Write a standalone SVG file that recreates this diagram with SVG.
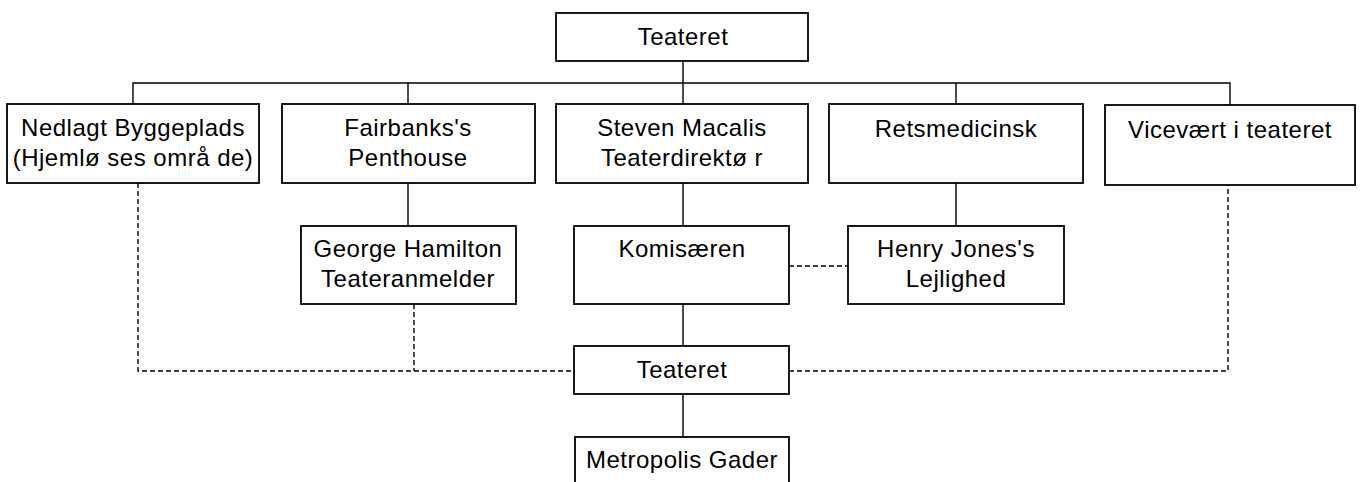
<svg xmlns="http://www.w3.org/2000/svg" width="1360" height="482" viewBox="0 0 1360 482">
<style>
.box{fill:#fff;stroke:#000;stroke-width:1.8}
.t{font-family:"Liberation Sans",Arial,sans-serif;font-size:24px;letter-spacing:0.5px;text-anchor:middle;fill:#000}
.s{fill:none;stroke:#000;stroke-width:1.4}
.d{fill:none;stroke:#000;stroke-width:1.4;stroke-dasharray:5 3}
</style>
<rect width="1360" height="482" fill="#fff"/>
<g id="connectors">
<path class="s" d="M683 61V104M133 104V83H1230V105M408 83V104M956 83V104"/>
<path class="s" d="M408 183V226M683 183V226M956 183V226M683 304V346M683 394V437"/>
<path class="d" d="M138 183V371H574M414 304V371M789 371H1228V185M789 266H848"/>
</g>
<g id="n-teateret-top"><rect class="box" x="556" y="13" width="252" height="48"/><text class="t" x="683" y="45">Teateret</text></g>
<g id="n-nedlagt"><rect class="box" x="7" y="104" width="252" height="79"/><text class="t" x="133" y="136">Nedlagt Byggeplads</text><text class="t" x="133" y="166">(Hjemlø ses områ de)</text></g>
<g id="n-fairbanks"><rect class="box" x="282" y="104" width="253" height="79"/><text class="t" x="408" y="136">Fairbanks's</text><text class="t" x="408" y="166">Penthouse</text></g>
<g id="n-steven"><rect class="box" x="556" y="104" width="252" height="79"/><text class="t" x="682" y="136">Steven Macalis</text><text class="t" x="682" y="166">Teaterdirektø r</text></g>
<g id="n-retsmed"><rect class="box" x="829" y="104" width="254" height="79"/><text class="t" x="956" y="137">Retsmedicinsk</text></g>
<g id="n-vicevaert"><rect class="box" x="1105" y="105" width="250" height="80"/><text class="t" x="1230" y="138">Vicevært i teateret</text></g>
<g id="n-george"><rect class="box" x="301" y="226" width="215" height="78"/><text class="t" x="408" y="257">George Hamilton</text><text class="t" x="408" y="287">Teateranmelder</text></g>
<g id="n-komis"><rect class="box" x="574" y="226" width="215" height="78"/><text class="t" x="682" y="257">Komisæren</text></g>
<g id="n-henry"><rect class="box" x="848" y="226" width="216" height="78"/><text class="t" x="956" y="257">Henry Jones's</text><text class="t" x="956" y="287">Lejlighed</text></g>
<g id="n-teateret-bottom"><rect class="box" x="574" y="346" width="215" height="48"/><text class="t" x="682" y="378">Teateret</text></g>
<g id="n-metropolis"><rect class="box" x="575" y="437" width="214" height="70"/><text class="t" x="682" y="468">Metropolis Gader</text></g>
</svg>
